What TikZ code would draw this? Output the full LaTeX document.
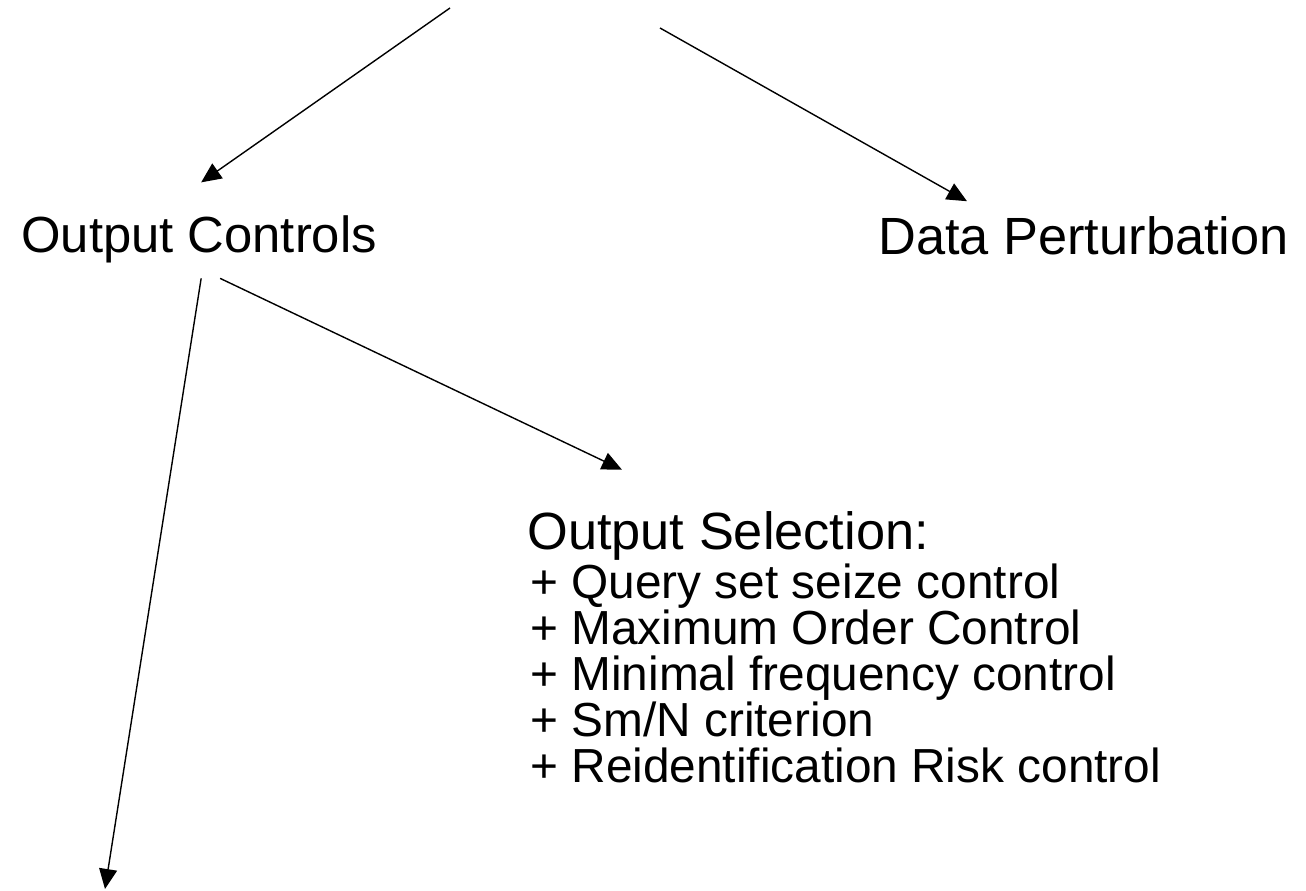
\documentclass[tikz,border=0pt]{standalone}
\usepackage{fontspec}
\setmainfont{Liberation Sans}
\usetikzlibrary{arrows.meta}
\usetikzlibrary{positioning}

\begin{document}
\begin{tikzpicture}[x=0.02cm,y=-0.02cm,
  arr/.style={draw=black,line width=0.8pt,-{Triangle[length=0.4cm,width=0.36cm]}},
  lbl/.style={inner sep=0pt}]
\useasboundingbox (0,0) rectangle (1306,891);

\node[lbl,anchor=base west,font=\fontsize{28.9}{30}\selectfont] (ctrl) at (21,253) {Output Controls};
\node[lbl,anchor=base west,font=\fontsize{29.8}{30}\selectfont] (pert) at (878,255) {Data Perturbation};
\node[lbl,anchor=base west,font=\fontsize{29.8}{30}\selectfont] (sel) at (527,550) {Output Selection:};
\node[lbl,below right=0.04cm and 0.06cm of sel.south west,align=left,font=\fontsize{27.2}{26.2}\selectfont] (items) {+ Query set seize control\\
+ Maximum Order Control\\
+ Minimal frequency control\\
+ Sm/N criterion\\
+ Reidentification Risk control};

\coordinate (src1) at (450,8);
\coordinate (src2) at (660,28);
\coordinate (sink) at (105,889);

\draw[arr] (src1) -- ([xshift=0.04cm,yshift=0.67cm]ctrl.north);
\draw[arr] (src2) -- ([xshift=1.78cm,yshift=0.31cm]pert.north west);
\draw[arr] ([xshift=0.04cm,yshift=-0.29cm]ctrl.south) -- (sink);
\draw[arr] ([xshift=0.42cm,yshift=-0.29cm]ctrl.south) -- ([xshift=1.9cm,yshift=0.84cm]sel.north west);

\end{tikzpicture}
\end{document}
